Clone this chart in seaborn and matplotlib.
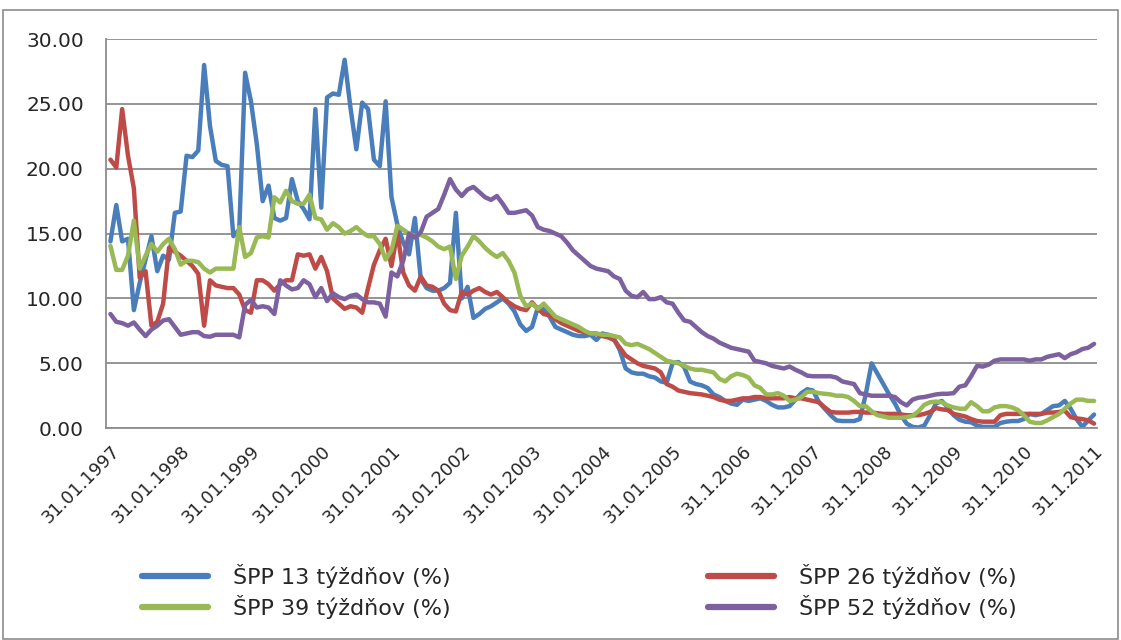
import matplotlib
matplotlib.use("Agg")
import matplotlib.pyplot as plt
import numpy as np
import pandas as pd
import seaborn as sns
from matplotlib.lines import Line2D
from matplotlib.patches import Rectangle

# monthly values, 31.01.1997 .. 31.1.2011 (169 months)
spp13 = [14.4, 17.2, 14.4, 14.6, 9.1, 11.2, 13.0, 14.8, 12.1, 13.3, 13.0, 16.6, 16.7, 21.0, 20.9, 21.4,
         28.0, 23.3, 20.6, 20.3, 20.2, 14.8, 15.3, 27.4, 25.2, 21.9, 17.5, 18.7, 16.2, 16.0, 16.2, 19.2,
         17.5, 16.9, 16.1, 24.6, 17.0, 25.5, 25.8, 25.7, 28.4, 24.7, 21.5, 25.1, 24.6, 20.7, 20.2, 25.2,
         17.8, 15.7, 14.3, 13.4, 16.2, 11.5, 10.8, 10.6, 10.6, 10.8, 11.2, 16.6, 10.0, 10.9, 8.5, 8.8,
         9.2, 9.4, 9.7, 10.0, 9.6, 9.0, 8.0, 7.5, 7.8, 9.3, 9.2, 8.6, 7.8, 7.6, 7.4, 7.2,
         7.1, 7.1, 7.2, 6.8, 7.3, 7.2, 6.9, 6.0, 4.6, 4.3, 4.2, 4.2, 4.0, 3.9, 3.6, 3.5,
         5.0, 5.1, 4.7, 3.6, 3.4, 3.3, 3.1, 2.6, 2.4, 2.1, 1.9, 1.8, 2.2, 2.1, 2.2, 2.3,
         2.1, 1.8, 1.6, 1.6, 1.7, 2.2, 2.7, 3.0, 2.9, 2.0, 1.5, 1.0, 0.6, 0.55, 0.55, 0.55,
         0.7, 2.6, 5.0, 4.2, 3.4, 2.6, 1.9, 1.0, 0.35, 0.1, 0.05, 0.2, 1.0, 1.9, 2.1, 1.6,
         1.0, 0.65, 0.5, 0.45, 0.2, 0.1, 0.1, 0.1, 0.4, 0.5, 0.55, 0.55, 0.7, 1.1, 1.0, 1.1,
         1.4, 1.7, 1.75, 2.1, 1.5, 0.7, 0.1, 0.6, 1.05]
spp26 = [20.7, 20.1, 24.6, 21.0, 18.5, 11.6, 12.1, 7.9, 8.2, 9.6, 13.9, 13.6, 13.3, 12.9, 12.5, 11.9,
         7.9, 11.4, 11.0, 10.9, 10.8, 10.8, 10.3, 9.1, 8.9, 11.4, 11.4, 11.1, 10.6, 11.1, 11.4, 11.4,
         13.4, 13.3, 13.4, 12.3, 13.2, 12.1, 10.0, 9.6, 9.2, 9.4, 9.3, 8.9, 10.8, 12.6, 13.7, 14.6,
         12.5, 15.1, 12.0, 11.0, 10.6, 11.7, 11.0, 10.9, 10.6, 9.6, 9.1, 9.0, 10.5, 10.3, 10.6, 10.8,
         10.5, 10.3, 10.5, 10.1, 9.7, 9.4, 9.2, 9.1, 9.7, 9.2, 8.8, 8.7, 8.4, 8.1, 7.9, 7.7,
         7.5, 7.4, 7.3, 7.3, 7.1, 7.0, 6.8, 6.2, 5.6, 5.3, 5.0, 4.8, 4.7, 4.6, 4.3, 3.4,
         3.2, 2.9, 2.8, 2.7, 2.65, 2.6, 2.5, 2.4, 2.2, 2.1, 2.1, 2.2, 2.3, 2.3, 2.4, 2.4,
         2.3, 2.3, 2.3, 2.3, 2.4, 2.3, 2.3, 2.2, 2.1, 2.0, 1.6, 1.25, 1.2, 1.2, 1.2, 1.25,
         1.25, 1.2, 1.2, 1.15, 1.1, 1.1, 1.1, 1.05, 1.0, 1.0, 1.0, 1.1, 1.25, 1.55, 1.45, 1.4,
         1.1, 1.0, 0.9, 0.7, 0.55, 0.5, 0.5, 0.5, 1.0, 1.1, 1.1, 1.1, 1.1, 1.1, 1.1, 1.1,
         1.2, 1.2, 1.25, 1.35, 0.85, 0.75, 0.7, 0.6, 0.35]
spp39 = [14.05, 12.2, 12.2, 13.3, 16.0, 12.3, 13.3, 14.2, 13.6, 14.2, 14.6, 13.8, 12.6, 12.9, 12.9, 12.8,
         12.3, 12.0, 12.3, 12.3, 12.3, 12.3, 15.5, 13.2, 13.5, 14.7, 14.8, 14.7, 17.8, 17.4, 18.3, 17.5,
         17.3, 17.3, 18.0, 16.2, 16.1, 15.3, 15.8, 15.5, 15.0, 15.2, 15.5, 15.1, 14.8, 14.8, 14.2, 13.0,
         13.7, 15.6, 15.3, 15.0, 14.8, 14.9, 14.7, 14.4, 14.0, 13.8, 14.0, 11.5, 13.3, 14.0, 14.8, 14.4,
         13.9, 13.5, 13.2, 13.5, 12.9, 12.0, 10.2, 9.4, 9.6, 9.2, 9.6, 9.1, 8.6, 8.4, 8.2, 8.0,
         7.8, 7.5, 7.3, 7.3, 7.2, 7.2, 7.1, 7.0, 6.5, 6.4, 6.5, 6.3, 6.1, 5.8, 5.5, 5.2,
         5.1, 5.0, 4.8, 4.6, 4.5, 4.5, 4.4, 4.3, 3.8, 3.6, 4.0, 4.2, 4.1, 3.9, 3.3, 3.1,
         2.6, 2.6, 2.7, 2.5, 2.1, 2.2, 2.4, 2.8, 2.8, 2.7, 2.65, 2.6, 2.5, 2.5, 2.4, 2.1,
         1.7, 1.7, 1.3, 1.0, 0.9, 0.8, 0.8, 0.8, 0.85, 0.95, 1.3, 1.8, 2.0, 2.05, 2.0, 1.75,
         1.6, 1.5, 1.5, 2.0, 1.7, 1.3, 1.3, 1.6, 1.7, 1.7, 1.6, 1.4, 1.0, 0.5, 0.4, 0.4,
         0.6, 0.85, 1.1, 1.5, 1.9, 2.2, 2.2, 2.1, 2.1]
spp52 = [8.8, 8.2, 8.1, 7.9, 8.15, 7.6, 7.1, 7.6, 7.9, 8.3, 8.4, 7.8, 7.2, 7.3, 7.4, 7.4,
         7.1, 7.05, 7.2, 7.2, 7.2, 7.2, 7.0, 9.5, 9.9, 9.3, 9.4, 9.3, 8.8, 11.4, 11.0, 10.7,
         10.8, 11.4, 11.1, 10.1, 10.8, 9.8, 10.4, 10.1, 9.95, 10.2, 10.3, 9.95, 9.7, 9.7, 9.6, 8.6,
         12.0, 11.7, 12.9, 15.0, 14.7, 15.1, 16.3, 16.6, 16.9, 18.0, 19.2, 18.4, 17.9, 18.4, 18.6, 18.2,
         17.8, 17.6, 17.9, 17.3, 16.6, 16.6, 16.7, 16.8, 16.4, 15.5, 15.3, 15.2, 15.0, 14.8, 14.3, 13.7,
         13.3, 12.9, 12.5, 12.3, 12.2, 12.1, 11.7, 11.5, 10.6, 10.2, 10.1, 10.5, 9.95, 9.95, 10.1, 9.7,
         9.6, 8.9, 8.3, 8.2, 7.8, 7.4, 7.1, 6.9, 6.6, 6.4, 6.2, 6.1, 6.0, 5.9, 5.2, 5.1,
         5.0, 4.8, 4.7, 4.6, 4.75, 4.5, 4.3, 4.05, 4.0, 4.0, 4.0, 4.0, 3.9, 3.6, 3.5, 3.4,
         2.7, 2.6, 2.5, 2.5, 2.5, 2.5, 2.4, 2.0, 1.75, 2.2, 2.35, 2.4, 2.5, 2.6, 2.65, 2.65,
         2.7, 3.2, 3.3, 4.0, 4.8, 4.75, 4.9, 5.2, 5.3, 5.3, 5.3, 5.3, 5.3, 5.2, 5.3, 5.3,
         5.5, 5.6, 5.7, 5.4, 5.7, 5.85, 6.1, 6.2, 6.5]

years = list(range(1997, 2012))
tick_labels = ["31.01.%d" % y if y <= 2005 else "31.1.%d" % y for y in years]
series_names = ["ŠPP 13 týždňov (%)", "ŠPP 26 týždňov (%)", "ŠPP 39 týždňov (%)", "ŠPP 52 týždňov (%)"]
colors = ["#4A7EBB", "#BE4B48", "#98B954", "#7D60A0"]

n = len(spp13)
frames = []
for name, vals in zip(series_names, [spp13, spp26, spp39, spp52]):
    frames.append(pd.DataFrame({"month": np.arange(n), "value": vals, "series": name}))
df = pd.concat(frames)

sns.set_style("white")
plt.rcParams["font.family"] = ["DejaVu Sans"]

fig = plt.figure(figsize=(11.21, 6.4), dpi=100)
ax = fig.add_axes([0.0946, 0.331, 0.884, 0.608])

sns.lineplot(data=df, x="month", y="value", hue="series", palette=colors,
             linewidth=3.2, ax=ax, legend=False, sort=False)

ax.set_xlim(-0.75, n - 0.6)
ax.set_ylim(0, 30)
ax.set_yticks(np.arange(0, 31, 5))
ax.set_yticklabels(["%.2f" % v for v in np.arange(0, 31, 5)], fontsize=14.5)
ax.yaxis.grid(True, color="#8c8c8c", linewidth=1.3)
ax.set_axisbelow(True)
ax.tick_params(axis="y", length=0, pad=16)

ax.set_xticks(np.arange(0, n, 12))
ax.set_xticklabels(tick_labels, rotation=45, ha="right", va="top",
                   rotation_mode="anchor", fontsize=12.8)
ax.set_xticks(np.arange(n + 1) - 0.5, minor=True)
ax.tick_params(axis="x", which="major", length=0, pad=10)
ax.tick_params(axis="x", which="minor", length=6, width=1, color="#8c8c8c", direction="out")
ax.set_xlabel("")
ax.set_ylabel("")

for side in ["top", "right"]:
    ax.spines[side].set_visible(False)
for side in ["left", "bottom"]:
    ax.spines[side].set_color("#8c8c8c")
    ax.spines[side].set_linewidth(1.3)

# legend: two columns, row-major order like the original
handles = [Line2D([], [], color=c, linewidth=4.5) for c in colors]
order = [0, 2, 1, 3]
fig.legend([handles[i] for i in order], [series_names[i] for i in order],
           ncol=2, loc="upper left", bbox_to_anchor=(0.109, 0.150),
           frameon=False, fontsize=16, handlelength=2.95, handletextpad=1.13,
           columnspacing=11.6, labelspacing=0.3)

fig.patches.append(Rectangle((0.003, 0.002), 0.994, 0.982, transform=fig.transFigure,
                             fill=False, edgecolor="#8c8c8c", linewidth=1.2))

fig.savefig("out.png", dpi=100)
